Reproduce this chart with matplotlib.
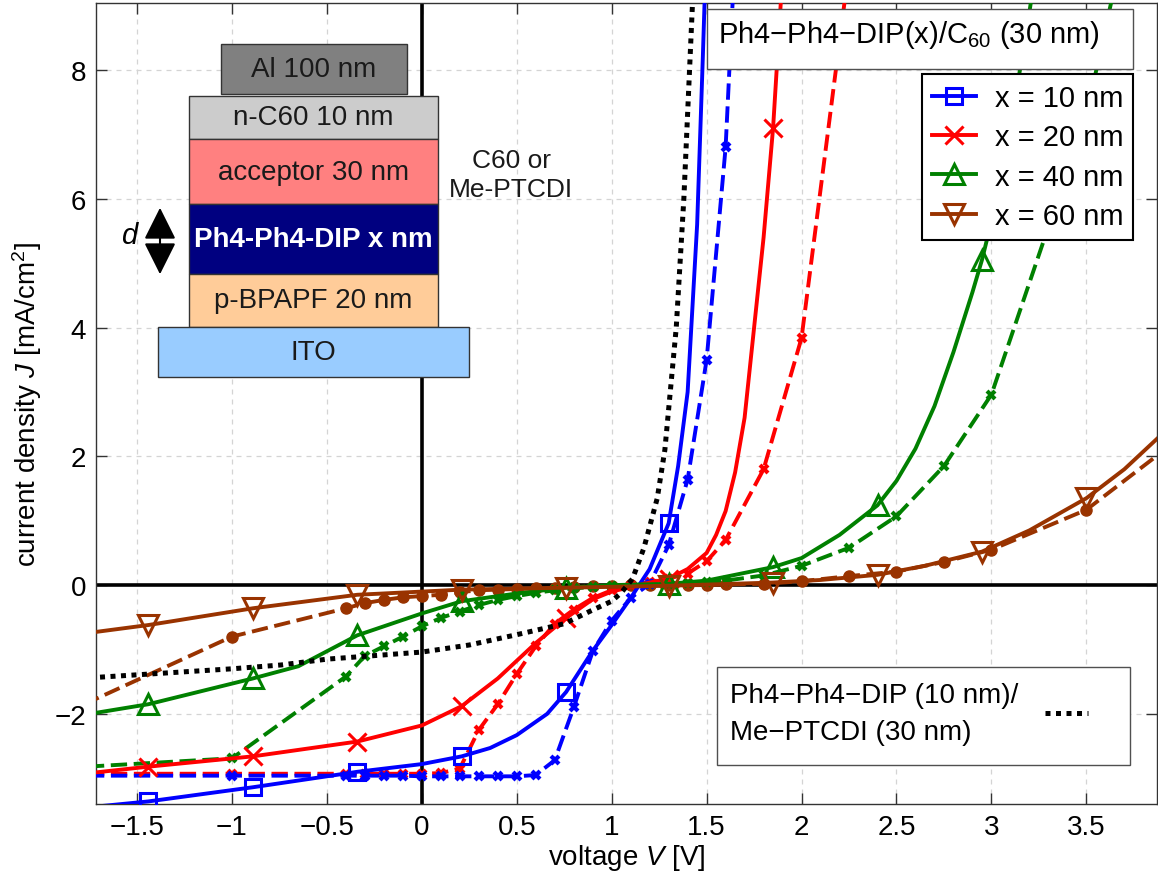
import numpy as np
import matplotlib
matplotlib.use("Agg")
import matplotlib.pyplot as plt
from matplotlib.lines import Line2D
from matplotlib.patches import Rectangle, FancyArrowPatch
from matplotlib.ticker import FuncFormatter, MultipleLocator

plt.rcParams["font.family"] = ["Liberation Sans", "DejaVu Sans"]
plt.rcParams["mathtext.fontset"] = "custom"
plt.rcParams["mathtext.rm"] = "Liberation Sans"
plt.rcParams["mathtext.it"] = "Liberation Sans:italic"
plt.rcParams["mathtext.bf"] = "Liberation Sans:bold"

BLUE, RED, GREEN, BROWN = "#0000ff", "#ff0000", "#008000", "#993300"

# voltages where the solid (C60) curves carry a marker
MARK_V = [-1.44, -0.89, -0.34, 0.21, 0.76, 1.30, 1.85, 2.40, 2.95, 3.50]

# Ph4-Ph4-DIP(x)/C60 solid curves
V10 = [-1.75, -1.44, -0.89, -0.34, 0.0, 0.21, 0.36, 0.50, 0.66, 0.76, 0.90, 1.00, 1.10,
       1.20, 1.30, 1.35, 1.40, 1.45, 1.48, 1.51]
J10 = [-3.45, -3.36, -3.14, -2.90, -2.78, -2.66, -2.53, -2.33, -2.00, -1.66, -1.02, -0.62, -0.20,
       0.25, 0.96, 1.85, 3.0, 5.6, 8.2, 11.0]

V20 = [-1.75, -1.44, -0.89, -0.34, 0.0, 0.21, 0.40, 0.60, 0.76, 0.90, 1.00, 1.10, 1.20,
       1.30, 1.40, 1.50, 1.55, 1.60, 1.65, 1.70, 1.75, 1.80, 1.85, 1.90]
J20 = [-2.92, -2.82, -2.66, -2.43, -2.18, -1.88, -1.45, -0.90, -0.51, -0.22, -0.10, -0.03, 0.04,
       0.10, 0.25, 0.50, 0.78, 1.15, 1.75, 2.6, 4.0, 5.4, 7.1, 9.5]

V40 = [-1.75, -1.44, -0.89, -0.65, -0.34, 0.0, 0.21, 0.50, 0.76, 1.00, 1.30, 1.50, 1.85, 2.00,
       2.20, 2.40, 2.50, 2.60, 2.70, 2.80, 2.90, 2.95, 3.00, 3.10, 3.20, 3.25]
J40 = [-2.0, -1.85, -1.45, -1.26, -0.78, -0.44, -0.25, -0.13, -0.04, 0.0, 0.02, 0.07, 0.28, 0.42,
       0.78, 1.24, 1.62, 2.12, 2.78, 3.62, 4.55, 5.05, 5.65, 7.1, 8.9, 9.9]

V60 = [-1.75, -1.44, -0.89, -0.34, 0.21, 0.76, 1.30, 1.85, 2.10, 2.40, 2.65, 2.95, 3.20, 3.50,
       3.70, 3.90]
J60 = [-0.74, -0.62, -0.36, -0.15, -0.07, -0.04, -0.01, 0.04, 0.08, 0.16, 0.30, 0.52, 0.85, 1.35,
       1.80, 2.35]

# dashed curves (measured points)
BD_V = [-2.0, -1.0, -0.4, -0.3, -0.2, -0.1, 0.0, 0.1, 0.2, 0.3, 0.4, 0.5, 0.6, 0.7, 0.8, 0.9,
        1.0, 1.1, 1.2, 1.3, 1.4, 1.5, 1.6, 1.8]
BD_J = [-2.96, -2.96, -2.96, -2.96, -2.96, -2.96, -2.97, -2.97, -2.97, -2.97, -2.97, -2.97,
        -2.95, -2.72, -1.90, -1.03, -0.55, -0.20, 0.02, 0.62, 1.64, 3.50, 6.80, 19.0]

RD_V = [-2.0, -1.0, -0.4, -0.3, -0.2, -0.1, 0.0, 0.1, 0.2, 0.3, 0.4, 0.5, 0.6, 0.7, 0.8, 0.9,
        1.0, 1.1, 1.2, 1.3, 1.4, 1.5, 1.6, 1.8, 2.0, 2.25]
RD_J = [-2.93, -2.93, -2.93, -2.93, -2.93, -2.93, -2.93, -2.92, -2.85, -2.25, -1.85, -1.38,
        -0.95, -0.60, -0.38, -0.20, -0.08, 0.0, 0.05, 0.10, 0.18, 0.37, 0.70, 1.80, 3.84, 9.6]

GD_V = [-2.0, -1.0, -0.4, -0.3, -0.2, -0.1, 0.0, 0.1, 0.2, 0.3, 0.4, 0.5, 0.6, 0.7, 0.8, 0.9,
        1.0, 1.1, 1.2, 1.3, 1.4, 1.5, 1.6, 1.8, 2.0, 2.25, 2.5, 2.75, 3.0, 3.5, 4.0]
GD_J = [-2.86, -2.69, -1.42, -1.10, -0.95, -0.80, -0.64, -0.51, -0.41, -0.31, -0.23, -0.17,
        -0.12, -0.08, -0.05, -0.03, -0.01, 0.0, 0.01, 0.02, 0.03, 0.05, 0.07, 0.15, 0.30, 0.58,
        1.07, 1.85, 2.96, 7.3, 14.0]

OD_V = [-2.0, -1.0, -0.4, -0.3, -0.2, -0.1, 0.0, 0.1, 0.2, 0.3, 0.4, 0.5, 0.6, 0.7, 0.8, 0.9,
        1.0, 1.1, 1.2, 1.3, 1.4, 1.5, 1.6, 1.8, 2.0, 2.25, 2.5, 2.75, 3.0, 3.5, 4.0]
OD_J = [-2.15, -0.80, -0.36, -0.28, -0.23, -0.19, -0.17, -0.15, -0.11, -0.08, -0.07, -0.06,
        -0.05, -0.04, -0.03, -0.02, -0.01, 0.0, 0.0, 0.0, 0.0, 0.0, 0.01, 0.02, 0.06, 0.14,
        0.21, 0.36, 0.55, 1.17, 2.3]

# Ph4-Ph4-DIP (10 nm)/Me-PTCDI (30 nm)
K_V = [-1.75, -1.0, -0.74, -0.5, 0.0, 0.25, 0.5, 0.75, 0.89, 1.0, 1.05, 1.11, 1.17, 1.24,
       1.28, 1.34, 1.38, 1.41, 1.44]
K_J = [-1.44, -1.30, -1.24, -1.15, -1.04, -0.93, -0.77, -0.60, -0.40, -0.25, -0.12, 0.10,
       0.58, 1.35, 2.10, 4.00, 6.00, 8.00, 10.0]

LABELS = ["x = 10 nm", "x = 20 nm", "x = 40 nm", "x = 60 nm"]
K_LABEL = ["Ph4\u2212Ph4\u2212DIP (10 nm)/", "Me\u2212PTCDI (30 nm)"]

# layer stack of the device sketch: label, face colour, box in figure pixels
LAYERS = [
    ("Al 100 nm", "#808080", (221, 45, 407, 95)),
    ("n-C60 10 nm", "#cccccc", (189, 97, 438, 140)),
    ("acceptor 30 nm", "#ff8080", (189, 140, 438, 205)),
    ("Ph4-Ph4-DIP x nm", "#000080", (189, 205, 438, 275)),
    ("p-BPAPF 20 nm", "#ffcc99", (189, 275, 438, 328)),
    ("ITO", "#99ccff", (158, 328, 469, 378)),
]

W, H = 1158, 878
fig = plt.figure(figsize=(W / 100, H / 100), dpi=100)
ax = fig.add_axes([96 / W, 1 - 805 / H, (1157 - 96) / W, (805 - 3.5) / H])


def fx(px):
    return px / W


def fy(py):
    return 1 - py / H


LW = 2.8
DASH = (0, (4.2, 1.7))
DOT = (0, (1, 1.1))


def marks(v):
    return [i for i, x in enumerate(v) if np.any(np.isclose(x, MARK_V))]


# dashed curves
ax.plot(OD_V, OD_J, color=BROWN, lw=LW, ls=DASH, marker="o", ms=8, mfc=BROWN, mec=BROWN, zorder=3)
ax.plot(GD_V, GD_J, color=GREEN, lw=LW, ls=DASH, marker="x", ms=6, mew=3, zorder=3)
ax.plot(RD_V, RD_J, color=RED, lw=LW, ls=DASH, marker="x", ms=6, mew=3, zorder=3)
ax.plot(BD_V, BD_J, color=BLUE, lw=LW, ls=DASH, marker="x", ms=6, mew=3, zorder=3)

# solid curves
solid = [
    (V10, J10, BLUE, "s", 12),
    (V20, J20, RED, "x", 13),
    (V40, J40, GREEN, "^", 14),
    (V60, J60, BROWN, "v", 14),
]
handles = []
for v, j, c, m, ms in solid:
    ax.plot(v, j, color=c, lw=LW, marker=m, ms=ms, mew=2.2, mfc="none", mec=c,
            markevery=marks(v), zorder=4)
    handles.append(Line2D([], [], color=c, lw=LW, marker=m, ms=ms, mew=2.2, mfc="none", mec=c))

ax.plot(K_V, K_J, color="k", lw=3.6, ls=DOT, zorder=5)

ax.axhline(0, color="k", lw=2.6, zorder=2)
ax.axvline(0, color="k", lw=2.6, zorder=2)

ax.set_xlim(-1.716, 3.872)
ax.set_ylim(-3.40, 9.05)
ax.xaxis.set_major_locator(MultipleLocator(0.5))
ax.yaxis.set_major_locator(MultipleLocator(2))
fmt = FuncFormatter(lambda v, p: f"{v:g}".replace("-", "\u2212"))
ax.xaxis.set_major_formatter(fmt)
ax.yaxis.set_major_formatter(fmt)
ax.tick_params(direction="in", length=8, width=1, labelsize=20, top=True, right=True,
               color="#333333", pad=7)
for s in ax.spines.values():
    s.set_linewidth(1.0)
    s.set_color("#333333")
ax.grid(True, color="#d4d4d4", ls=(0, (4, 4)), lw=0.9)
ax.set_axisbelow(True)

ax.set_xlabel("voltage $V$ [V]", fontsize=20, labelpad=2)
ax.set_ylabel("current density $J$ [mA/cm$^2$]", fontsize=20, labelpad=8)

# legend of the C60 series
leg1 = ax.legend(handles, LABELS, loc="upper right",
                 bbox_to_anchor=((1133 - 96) / 1061, (805 - 75) / 801.5),
                 fontsize=21, fancybox=False, framealpha=1, edgecolor="k",
                 handlelength=1.5, handletextpad=0.65, labelspacing=0.39,
                 borderpad=0.34, borderaxespad=0)
leg1.get_frame().set_linewidth(1.5)
leg1.set_zorder(10)

# box for the Me-PTCDI device, sample line on the right
fig.add_artist(Rectangle((fx(717), fy(766)), fx(1130) - fx(717), fy(668) - fy(766),
                         transform=fig.transFigure, fc="w", ec="#505050", lw=1.0, zorder=6))
fig.text(fx(730), fy(703), K_LABEL[0], fontsize=20, ha="left", va="baseline", zorder=7)
fig.text(fx(730), fy(740), K_LABEL[1], fontsize=20, ha="left", va="baseline", zorder=7)
fig.add_artist(Line2D([fx(1045), fx(1088)], [fy(714), fy(714)], transform=fig.transFigure,
                      color="k", lw=3.6, ls=DOT, zorder=7))

# title box
fig.add_artist(Rectangle((fx(707), fy(70)), fx(1133) - fx(707), fy(10) - fy(70),
                         transform=fig.transFigure, fc="w", ec="#505050", lw=1.0, zorder=6))
fig.text(fx(718), fy(43), "Ph4\u2212Ph4\u2212DIP(x)/C$_{60}$ (30 nm)", fontsize=21,
         ha="left", va="baseline", zorder=7)

# device sketch
for name, col, (x0, y0, x1, y1) in LAYERS:
    fig.add_artist(Rectangle((fx(x0), fy(y1)), fx(x1) - fx(x0), fy(y0) - fy(y1),
                             transform=fig.transFigure, fc=col, ec="#333333", lw=1.0, zorder=6))
    bold = name.startswith("Ph4")
    fig.text(fx((x0 + x1) / 2), fy((y0 + y1) / 2), name, fontsize=20, ha="center",
             va="center", color="w" if bold else "#1a1a1a",
             fontweight="bold" if bold else "normal", zorder=7)

fig.text(fx(511), fy(168), "C60 or", fontsize=19, ha="center", va="baseline", color="#1a1a1a")
fig.text(fx(511), fy(197), "Me-PTCDI", fontsize=19, ha="center", va="baseline", color="#1a1a1a")
fig.text(fx(130), fy(236), "$d$", fontsize=21, ha="center", va="center")
fig.add_artist(FancyArrowPatch((fx(160), fy(206)), (fx(160), fy(278)),
                               transform=fig.transFigure,
                               arrowstyle="<|-|>,head_length=0.9,head_width=0.45",
                               mutation_scale=22, color="k", lw=1.5, zorder=7))

fig.savefig("out.png", dpi=100)
